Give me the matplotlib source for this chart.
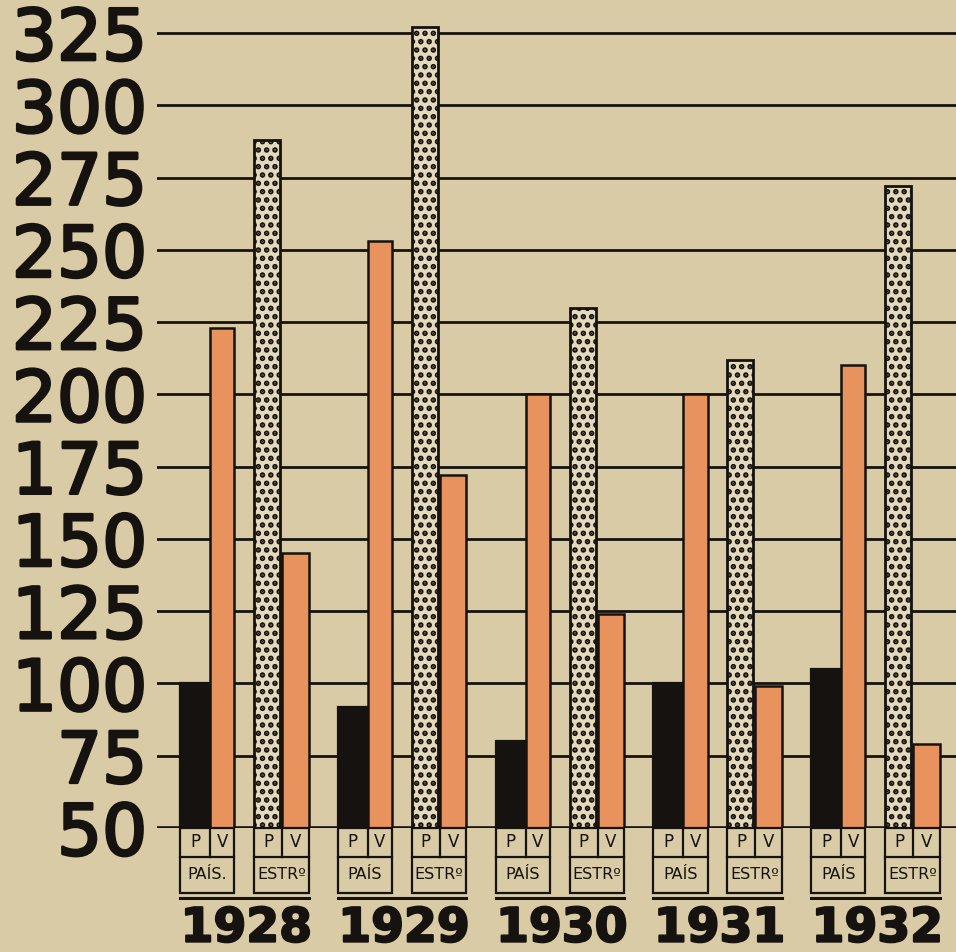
import matplotlib.pyplot as plt
import matplotlib.patheffects as pe
from matplotlib.patches import Rectangle

# Pais / Estrangeiro, P and V, per year
years = ["1928", "1929", "1930", "1931", "1932"]
pais_p = [100, 92, 80, 100, 105]
pais_v = [223, 253, 200, 200, 210]
estr_p = [288, 327, 230, 212, 272]
estr_v = [145, 172, 124, 99, 79]
pais_labels = ["PAÍS.", "PAÍS", "PAÍS", "PAÍS", "PAÍS"]
estr_labels = ["ESTRº", "ESTRº", "ESTRº", "ESTRº", "ESTRº"]
yticks = [50, 75, 100, 125, 150, 175, 200, 225, 250, 275, 300, 325]

BG = "#d9cba5"
ORANGE = "#e8935d"
INK = "#151210"

plt.rcParams["hatch.linewidth"] = 2.7
plt.rcParams["hatch.color"] = INK

fig = plt.figure(figsize=(9.56, 9.52), dpi=100, facecolor=BG)
ax = fig.add_axes([157 / 956, 124 / 952, 1 - 157 / 956, 828 / 952])
ax.set_facecolor(BG)
base = 50
ax.set_ylim(base, base + 828 / 2.891)
ax.set_xlim(-0.146, 4.919)

for s in ax.spines.values():
    s.set_visible(False)

# horizontal rules
for t in yticks:
    ax.axhline(t, color=INK, lw=2.6 if t == base else 2.0, zorder=1)

ax.set_yticks(yticks)
ax.set_yticklabels([str(t) for t in yticks], fontfamily="DejaVu Sans",
                   fontsize=51, color=INK)
for lbl in ax.get_yticklabels():
    lbl.set_path_effects([pe.withStroke(linewidth=2.0, foreground=INK)])
ax.tick_params(axis="y", length=0, pad=7)
ax.set_xticks([])

# bar layout inside one year group (fractions of the group step)
w_bp, w_vp, w_be, w_ve = 0.19, 0.155, 0.165, 0.168
x_vp = w_bp
x_be = 0.47
x_ve = 0.647

for i in range(len(years)):
    ax.bar(i, pais_p[i] - base, bottom=base, width=w_bp, align="edge",
           color=INK, edgecolor=INK, lw=1.6, zorder=3)
    ax.bar(i + x_vp, pais_v[i] - base, bottom=base, width=w_vp, align="edge",
           color=ORANGE, edgecolor=INK, lw=1.8, zorder=3)
    ax.bar(i + x_be, estr_p[i] - base, bottom=base, width=w_be, align="edge",
           color="#e4d9bb", edgecolor=INK, lw=2.0, hatch="..", zorder=3)
    ax.bar(i + x_ve, estr_v[i] - base, bottom=base, width=w_ve, align="edge",
           color=ORANGE, edgecolor=INK, lw=1.8, zorder=3)

    # label boxes under the bars: P | V on top, group name below
    for x0, x1, xm, name in [(i, i + x_vp + w_vp, i + x_vp, pais_labels[i]),
                             (i + x_be, i + x_ve + w_ve, i + x_ve, estr_labels[i])]:
        ax.add_patch(Rectangle((x0, 27.5), x1 - x0, base - 27.5, fill=False,
                               ec=INK, lw=1.6, clip_on=False, zorder=4))
        ax.plot([x0, x1], [40, 40], color=INK, lw=1.6, clip_on=False)
        ax.plot([xm, xm], [40, base], color=INK, lw=1.6, clip_on=False)
        ax.text((x0 + xm) / 2, 45, "P", ha="center", va="center",
                fontsize=12, color=INK)
        ax.text((xm + x1) / 2, 45, "V", ha="center", va="center",
                fontsize=12, color=INK)
        ax.text((x0 + x1) / 2, 33.8, name, ha="center", va="center",
                fontsize=11.5, color=INK)

    ax.plot([i, i + x_ve + w_ve], [25.8, 25.8], color=INK, lw=2.2,
            clip_on=False)
    ax.text(i + 0.42, 22.8, years[i], ha="center", va="top", fontsize=34,
            fontweight="bold", color=INK,
            path_effects=[pe.withStroke(linewidth=1.5, foreground=INK)])

fig.savefig("out.png", dpi=100, facecolor=BG)
